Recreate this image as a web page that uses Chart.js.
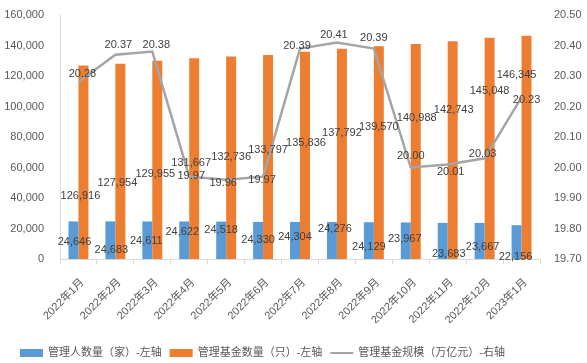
<!DOCTYPE html>
<html>
<head>
<meta charset="utf-8">
<script src="https://cdn.jsdelivr.net/npm/chart.js@4/dist/chart.umd.min.js"></script>
<style>
    html, body { margin: 0; padding: 0; background: #ffffff; }
    #wrap { width: 587px; height: 363px; position: relative; }
</style>
</head>
<body>
<div id="wrap"><canvas id="chart" width="587" height="363"></canvas></div>
<script>
// Private fund managers / funds / scale, 2022-01 .. 2023-01

const months = ['2022年1月', '2022年2月', '2022年3月', '2022年4月', '2022年5月', '2022年6月', '2022年7月',
    '2022年8月', '2022年9月', '2022年10月', '2022年11月', '2022年12月', '2023年1月'];

const managerCount = [24646, 24683, 24611, 24622, 24518, 24330, 24304, 24276, 24129, 23967, 23683, 23667, 22156];
const fundCount = [126916, 127954, 129955, 131667, 132736, 133797, 135836, 137792, 139570, 140988, 142743, 145048, 146345];
const fundScale = [20.28, 20.37, 20.38, 19.97, 19.96, 19.97, 20.39, 20.41, 20.39, 20.00, 20.01, 20.03, 20.23];

const leftTicks = [0, 20000, 40000, 60000, 80000, 100000, 120000, 140000, 160000];
const rightTicks = [19.70, 19.80, 19.90, 20.00, 20.10, 20.20, 20.30, 20.40, 20.50];

const seriesNames = ['管理人数量（家）-左轴', '管理基金数量（只）-左轴', '管理基金规模（万亿元）-右轴'];

const BLUE = '#5b9bd5';
const ORANGE = '#ed7d31';
const GREY = '#a5a5a5';
const FONT = '"Liberation Sans", Arial, "Noto Sans CJK SC", sans-serif';

// label placement, pixels relative to the mark (the source chart has them scattered)
const labelShift = [
    { dx: [1, 1, -1, -2, 0, 0, 0, 3, 0, -1, 6, 3, -1], dy: [21, 29, 20, 11, 8, 18, 15, 7, 25, 17, 31, 24, 32] },
    { dx: [-3, -3, -2, -3, 0, 0, 1, 0, 0, 1, 1, 0, -10], dy: [131, 119, 113, 105, 100, 95, 91, 84, 81, 74, 69, 53, 39] },
    { dx: [4, 3, 4, 2, -3, -1, -3, -3, 0, 0, 3, -2, 5], dy: [-8, -10, -7, -1, 3, 3, -3, -7, -11, -12, 8, -4, 3] }
];

const valueLabels = {
    id: 'valueLabels',
    afterDatasetsDraw(chart) {
        const ctx = chart.ctx;
        ctx.save();
        ctx.font = '11px ' + FONT;
        ctx.fillStyle = '#404040';
        ctx.textAlign = 'center';
        ctx.textBaseline = 'middle';
        chart.data.datasets.forEach((ds, i) => {
            const meta = chart.getDatasetMeta(i);
            meta.data.forEach((el, j) => {
                const v = ds.data[j];
                const txt = i === 2 ? v.toFixed(2) : v.toLocaleString('en-US');
                ctx.fillText(txt, el.x + labelShift[i].dx[j], el.y + labelShift[i].dy[j]);
            });
        });
        ctx.restore();
    }
};

// legend drawn by hand so the line entry is a plain stroke
const bottomLegend = {
    id: 'bottomLegend',
    afterDraw(chart) {
        const ctx = chart.ctx;
        const y = 353;
        let x = 20;
        ctx.save();
        ctx.font = '11px ' + FONT;
        ctx.textBaseline = 'middle';
        ctx.textAlign = 'left';
        const colors = [BLUE, ORANGE, GREY];
        seriesNames.forEach((name, i) => {
            if (i < 2) {
                ctx.fillStyle = colors[i];
                ctx.fillRect(x, y - 4, 23, 8);
            } else {
                ctx.strokeStyle = colors[i];
                ctx.lineWidth = 2;
                ctx.beginPath();
                ctx.moveTo(x, y);
                ctx.lineTo(x + 23, y);
                ctx.stroke();
            }
            x += 28;
            ctx.fillStyle = '#595959';
            ctx.fillText(name, x, y);
            x += ctx.measureText(name).width + 8;
        });
        ctx.restore();
    }
};

new Chart(document.getElementById('chart'), {
    type: 'bar',
    data: {
        labels: months,
        datasets: [
            {
                label: seriesNames[0],
                data: managerCount,
                backgroundColor: BLUE,
                yAxisID: 'y',
                order: 1,
                barPercentage: 1,
                categoryPercentage: 0.54
            },
            {
                label: seriesNames[1],
                data: fundCount,
                backgroundColor: ORANGE,
                yAxisID: 'y',
                order: 1,
                barPercentage: 1,
                categoryPercentage: 0.54
            },
            {
                type: 'line',
                label: seriesNames[2],
                data: fundScale,
                borderColor: GREY,
                backgroundColor: GREY,
                borderWidth: 2.5,
                pointRadius: 0,
                tension: 0,
                yAxisID: 'y1',
                order: 0
            }
        ]
    },
    options: {
        responsive: false,
        animation: false,
        layout: {
            padding: { left: 0, right: 0, top: 15, bottom: 40 }
        },
        plugins: {
            legend: { display: false },
            tooltip: { enabled: false }
        },
        scales: {
            x: {
                grid: {
                    display: true,
                    drawOnChartArea: false,
                    drawTicks: true,
                    tickLength: 5,
                    color: '#d9d9d9'
                },
                border: { display: true, color: '#d9d9d9' },
                ticks: {
                    color: '#595959',
                    font: { size: 11, family: FONT },
                    minRotation: 45,
                    maxRotation: 45,
                    autoSkip: false,
                    padding: 12,
                    labelOffset: 4
                },
                afterFit(scale) { scale.height = 64; }
            },
            y: {
                position: 'left',
                min: leftTicks[0],
                max: leftTicks[leftTicks.length - 1],
                grid: { display: false },
                border: { display: true, color: '#d9d9d9' },
                afterBuildTicks(scale) { scale.ticks = leftTicks.map(v => ({ value: v })); },
                ticks: {
                    color: '#595959',
                    font: { size: 11, family: FONT },
                    padding: 8,
                    callback: v => v.toLocaleString('en-US')
                },
                afterFit(scale) { scale.width = 60; }
            },
            y1: {
                position: 'right',
                min: rightTicks[0],
                max: rightTicks[rightTicks.length - 1],
                grid: { display: false },
                border: { display: false },
                afterBuildTicks(scale) { scale.ticks = rightTicks.map(v => ({ value: v })); },
                ticks: {
                    color: '#595959',
                    font: { size: 11, family: FONT },
                    padding: 6,
                    callback: v => v.toFixed(2)
                },
                afterFit(scale) { scale.width = 47; }
            }
        }
    },
    plugins: [valueLabels, bottomLegend]
});
</script>
</body>
</html>
